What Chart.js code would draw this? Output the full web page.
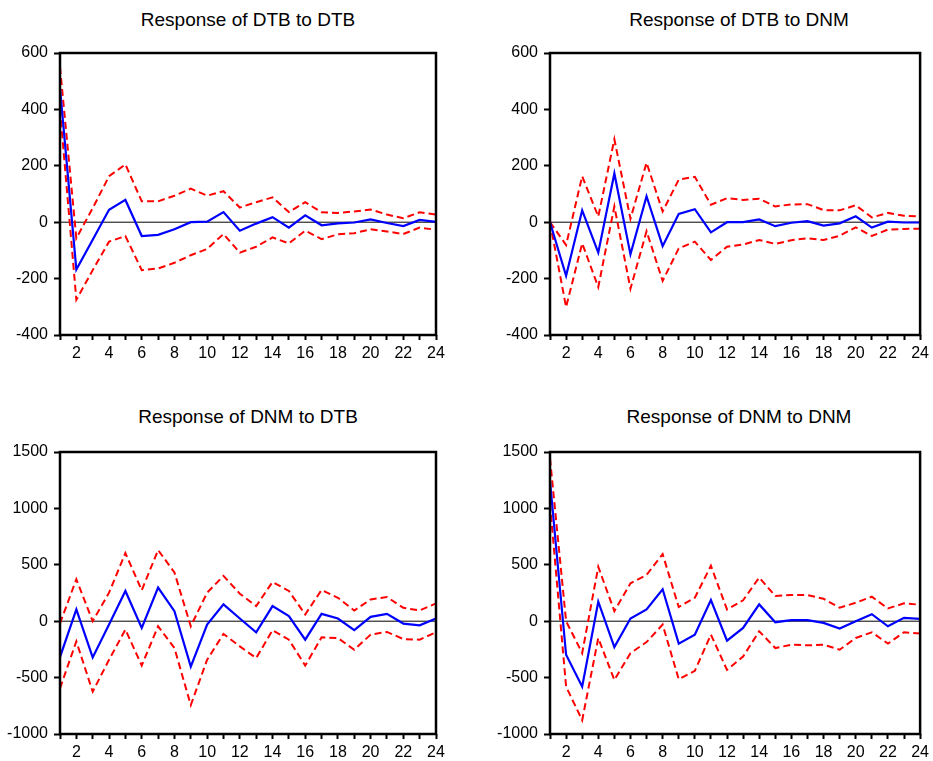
<!DOCTYPE html>
<html>
<head>
<meta charset="utf-8">
<script src="https://cdn.jsdelivr.net/npm/chart.js@4"></script>
<style>
  body { margin: 0; background: #fff; width: 933px; height: 761px; overflow: hidden; position: relative; }
  canvas { position: absolute; }
  .ttl { position: absolute; width: 400px; text-align: center; font: 19px "Liberation Sans", Arial, sans-serif; line-height: 20px; color: #000; }
</style>
</head>
<body>
<div class="ttl" style="left:48px; top:10px">Response of DTB to DTB</div>
<div class="ttl" style="left:539px; top:10px">Response of DTB to DNM</div>
<div class="ttl" style="left:48px; top:407px">Response of DNM to DTB</div>
<div class="ttl" style="left:539px; top:407px">Response of DNM to DNM</div>
<canvas id="c1" width="466" height="370" style="left:0; top:0"></canvas>
<canvas id="c2" width="443" height="370" style="left:490px; top:0"></canvas>
<canvas id="c3" width="466" height="361" style="left:0; top:400px"></canvas>
<canvas id="c4" width="443" height="361" style="left:490px; top:400px"></canvas>
<script>
// periods
const periods = ['1','2','3','4','5','6','7','8','9','10','11','12','13','14','15','16','17','18','19','20','21','22','23','24'];

// Response of DTB to DTB
const dtbDtb      = [475, -168, -62, 44, 79, -49, -45, -25, 0, 2, 36, -30, -5, 18, -19, 24, -11, -4, -1, 10, -3, -14, 8, 1];
const dtbDtbUpper = [550, -57, 50, 163, 205, 74, 74, 94, 119, 94, 110, 52, 71, 88, 36, 71, 35, 33, 38, 45, 27, 14, 35, 27];
const dtbDtbLower = [400, -275, -170, -69, -49, -170, -164, -144, -117, -95, -42, -108, -87, -54, -75, -30, -60, -43, -39, -25, -33, -42, -19, -27];

// Response of DTB to DNM
const dtbDnm      = [0, -190, 42, -108, 173, -114, 92, -85, 29, 46, -36, 0, 0, 10, -14, -2, 4, -12, -4, 21, -19, 2, -1, -1];
const dtbDnmUpper = [0, -81, 163, 20, 294, 12, 211, 38, 151, 161, 62, 85, 79, 83, 56, 63, 64, 43, 42, 60, 17, 33, 23, 21];
const dtbDnmLower = [0, -301, -75, -230, 56, -236, -32, -208, -93, -69, -134, -87, -79, -63, -77, -64, -57, -63, -48, -18, -49, -26, -24, -23];

// Response of DNM to DTB
const dnmDtb      = [-318, 104, -321, -30, 268, -60, 298, 89, -402, -30, 149, 24, -98, 134, 45, -164, 65, 24, -80, 39, 65, -21, -36, 24];
const dnmDtbUpper = [-20, 372, 0, 253, 604, 274, 631, 432, -45, 253, 402, 244, 134, 348, 268, 60, 277, 208, 95, 193, 214, 119, 95, 158];
const dnmDtbLower = [-595, -179, -625, -342, -74, -393, -45, -238, -744, -342, -113, -223, -327, -80, -164, -393, -143, -149, -253, -119, -95, -158, -164, -98];

// Response of DNM to DNM
const dnmDnm      = [1241, -298, -580, 173, -229, 24, 104, 283, -199, -119, 187, -173, -60, 149, -9, 9, 9, -15, -65, 0, 62, -45, 30, 21];
const dnmDnmUpper = [1443, 0, -283, 482, 89, 336, 411, 595, 125, 208, 491, 104, 185, 387, 223, 232, 232, 199, 119, 164, 217, 113, 158, 146];
const dnmDnmLower = [1040, -580, -878, -149, -521, -283, -185, -30, -515, -440, -119, -432, -313, -89, -238, -208, -214, -208, -253, -149, -98, -199, -98, -110];

const FONT = { family: '"Liberation Sans", Arial, sans-serif', size: 16 };

// zero line under the data, thick frame on top
const framePlugin = {
  id: 'frame',
  beforeDatasetsDraw(chart) {
    const a = chart.chartArea, y0 = chart.scales.y.getPixelForValue(0);
    const ctx = chart.ctx;
    ctx.save();
    ctx.strokeStyle = '#000';
    ctx.lineWidth = 1;
    ctx.beginPath();
    ctx.moveTo(a.left, y0);
    ctx.lineTo(a.right, y0);
    ctx.stroke();
    ctx.restore();
  },
  afterDraw(chart) {
    const a = chart.chartArea, ctx = chart.ctx;
    ctx.save();
    ctx.strokeStyle = '#000';
    ctx.lineWidth = 2.5;
    ctx.strokeRect(a.left, a.top, a.right - a.left, a.bottom - a.top);
    ctx.restore();
  }
};

function makeChart(id, mid, upper, lower, yMin, yMax, step, padTop, padRight, xHeight) {
  new Chart(document.getElementById(id), {
    type: 'line',
    data: {
      labels: periods,
      datasets: [
        { data: mid, borderColor: '#0000ff', borderWidth: 2.2, pointRadius: 0, tension: 0 },
        { data: upper, borderColor: '#ff0000', borderWidth: 2, borderDash: [7, 4], pointRadius: 0, tension: 0 },
        { data: lower, borderColor: '#ff0000', borderWidth: 2, borderDash: [7, 4], pointRadius: 0, tension: 0 }
      ]
    },
    options: {
      responsive: false,
      animation: false,
      layout: { padding: { top: padTop, right: padRight, left: 0, bottom: 0 } },
      plugins: { legend: { display: false }, tooltip: { enabled: false } },
      scales: {
        x: {
          offset: false,
          grid: { drawOnChartArea: false, tickLength: 5, color: '#000', tickWidth: 2 },
          border: { display: false },
          ticks: {
            autoSkip: false, maxRotation: 0, color: '#000', font: FONT, padding: 4,
            callback: function (v) {
              const l = this.getLabelForValue(v);
              return Number(l) % 2 === 0 ? l : '';
            }
          },
          afterFit: s => { s.height = xHeight; }
        },
        y: {
          min: yMin, max: yMax,
          grid: { drawOnChartArea: false, tickLength: 6, color: '#000', tickWidth: 2 },
          border: { display: false },
          ticks: { stepSize: step, color: '#000', font: FONT, padding: 6, callback: v => String(v) },
          afterFit: s => { s.width = 60; }
        }
      }
    },
    plugins: [framePlugin]
  });
}

makeChart('c1', dtbDtb, dtbDtbUpper, dtbDtbLower, -400, 600, 200, 53, 30, 35);
makeChart('c2', dtbDnm, dtbDnmUpper, dtbDnmLower, -400, 600, 200, 53, 7, 35);
makeChart('c3', dnmDtb, dnmDtbUpper, dnmDtbLower, -1000, 1500, 500, 52, 30, 27);
makeChart('c4', dnmDnm, dnmDnmUpper, dnmDnmLower, -1000, 1500, 500, 52, 7, 27);
</script>
</body>
</html>
